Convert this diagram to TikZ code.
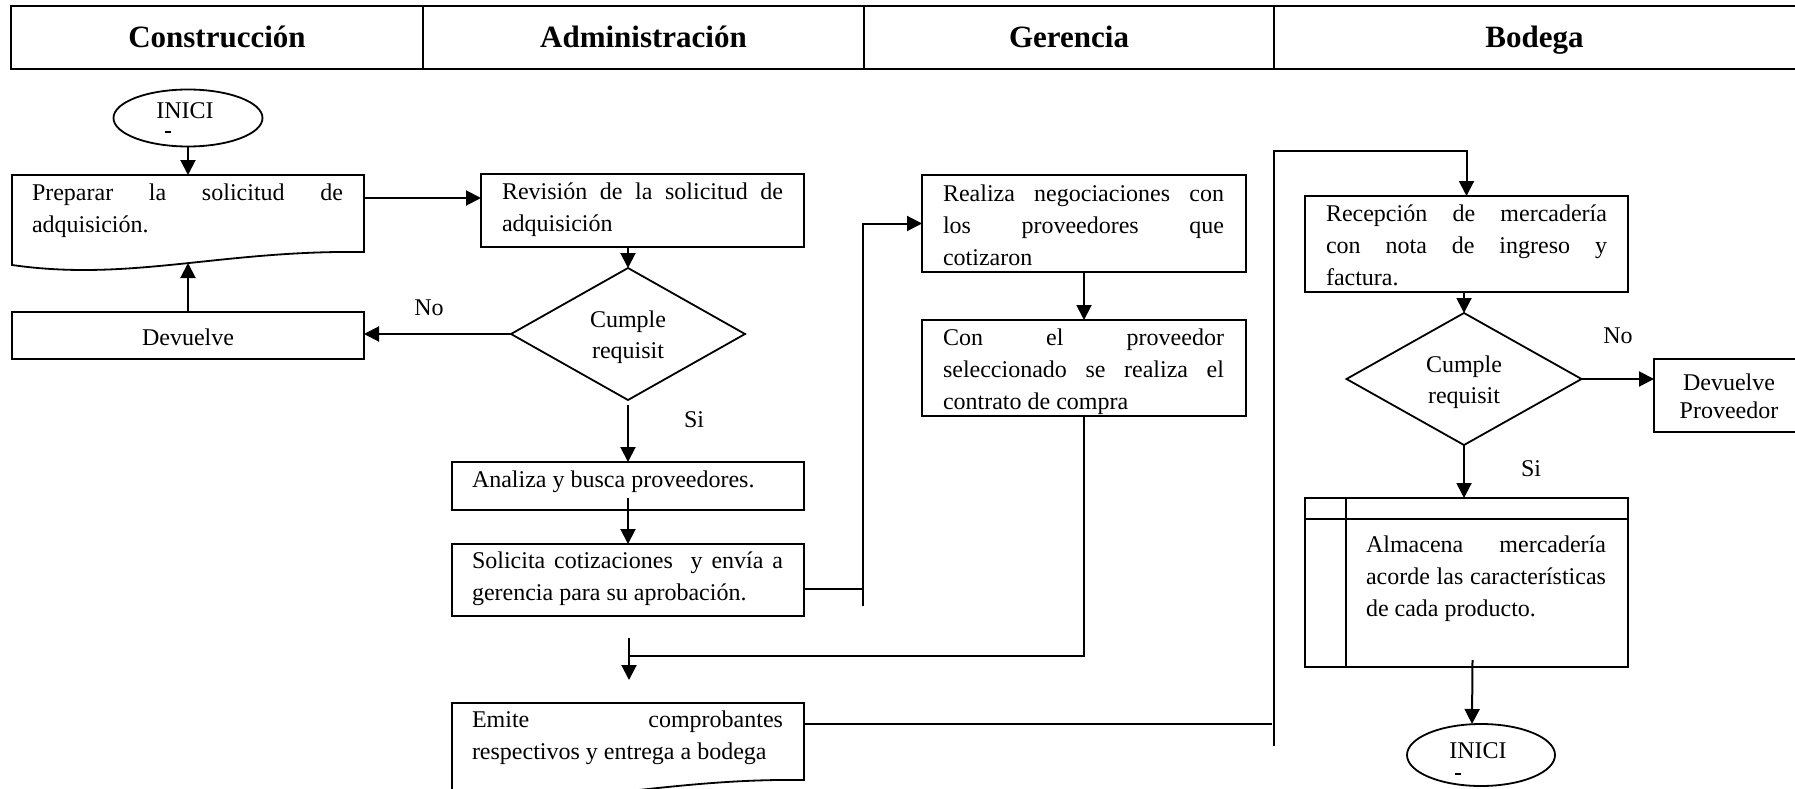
\documentclass[tikz,border=0pt]{standalone}
\usepackage{fontspec}
\setmainfont{Liberation Serif}
\usetikzlibrary{arrows.meta,shapes.geometric,calc}

% a line of text spread over a fixed width (justified line)
\newcommand{\jline}[2]{\makebox[#1][s]{#2}}
% outline of a "document" symbol with a wavy lower edge
\newcommand{\docshape}[1]{%
  \draw[boxline] (#1.north west) -- (#1.north east) -- ($(#1.north east)+(0,77)$)
    .. controls ($(#1.north east)+(-144,75)$) and ($(#1.north west)+(118,107)$) ..
    ($(#1.north west)+(0,90)$) -- cycle;}

\begin{document}
\begin{tikzpicture}[x=1pt,y=-1pt,
  every node/.style={inner sep=0pt, outer sep=0pt},
  boxline/.style={line width=1.8pt},
  box/.style={draw, rectangle, boxline, anchor=north west},
  docnode/.style={rectangle, anchor=north west},
  term/.style={draw, ellipse, boxline},
  decision/.style={draw, diamond, boxline},
  hdr/.style={draw, rectangle, line width=2.4pt, anchor=north west,
    minimum height=63pt, text height=24pt, text depth=3pt,
    font=\fontsize{31}{36}\selectfont\bfseries},
  txt/.style={font=\fontsize{24}{32}\selectfont},
  ln/.style={line width=2pt},
  arr/.style={line width=2pt, -{Triangle[length=15pt,width=15pt]}},
]
\useasboundingbox (0,0) rectangle (1795,789);
\fill[white] (0,0) rectangle (1795,789);
\clip (0,0) rectangle (1795,789);

% swimlane header
\node[hdr, minimum width=412pt] (h1) at (11,6) {Construcción};
\node[hdr, minimum width=441pt] (h2) at (423,6) {Administración};
\node[hdr, minimum width=410pt] (h3) at (864,6) {Gerencia};
\node[hdr, minimum width=540pt] (h4) at (1274,6) {\hspace*{-19pt}Bodega};

% Construcción lane
\node[term, minimum width=149pt, minimum height=57pt] (ini1) at (188,118) {};
\node[txt, anchor=base] (ini1-t) at (185,118) {INICI};
\draw[line width=1.4pt] ($(ini1-t.base)+(-20,14)$) -- ++(6,0);

\node[docnode, minimum width=352pt, minimum height=90pt] (prep) at (12,175) {};
\docshape{prep}
\node[txt, anchor=base west] (prep-t) at (32,200)
  {\parbox[t]{311pt}{\jline{311pt}{Preparar la solicitud de}\\adquisición.}};

\node[box, minimum width=352pt, minimum height=47pt] (dev) at (12,312) {};
\node[txt, anchor=base] (dev-t) at (188,345) {Devuelve};

% Administración lane
\node[box, minimum width=323pt, minimum height=73pt] (rev) at (481,174) {};
\node[txt, anchor=base west] (rev-t) at (502,199)
  {\parbox[t]{281pt}{\jline{281pt}{Revisión de la solicitud de}\\adquisición}};

\node[decision, minimum width=234pt, minimum height=132pt] (d1) at (628,334) {};
\node[txt, anchor=base] (d1-t) at (628,327)
  {\fontsize{24}{31}\selectfont\parbox[t]{130pt}{\centering Cumple\\requisit}};

\node[box, minimum width=352pt, minimum height=48pt] (ana) at (452,462) {};
\node[txt, anchor=base west] (ana-t) at (472,487) {Analiza y busca proveedores.};

\node[box, minimum width=352pt, minimum height=72pt] (sol) at (452,544) {};
\node[txt, anchor=base west] (sol-t) at (472,568)
  {\parbox[t]{311pt}{\jline{311pt}{Solicita cotizaciones\ \ y envía a}\\gerencia para su aprobación.}};

\node[docnode, minimum width=352pt, minimum height=90pt] (emite) at (452,703) {};
\docshape{emite}
\node[txt, anchor=base west] (emite-t) at (472,727)
  {\parbox[t]{311pt}{\jline{311pt}{Emite comprobantes}\\respectivos y entrega a bodega}};

% Gerencia lane
\node[box, minimum width=324pt, minimum height=97pt] (real) at (922,175) {};
\node[txt, anchor=base west] (real-t) at (943,201)
  {\parbox[t]{281pt}{\jline{281pt}{Realiza negociaciones con}\\\jline{281pt}{los proveedores que}\\cotizaron}};

\node[box, minimum width=324pt, minimum height=96pt] (con) at (922,320) {};
\node[txt, anchor=base west] (con-t) at (943,345)
  {\parbox[t]{281pt}{\jline{281pt}{Con el proveedor}\\\jline{281pt}{seleccionado se realiza el}\\contrato de compra}};

% Bodega lane
\node[box, minimum width=323pt, minimum height=96pt] (rec) at (1305,196) {};
\node[txt, anchor=base west] (rec-t) at (1326,221)
  {\parbox[t]{281pt}{\jline{281pt}{Recepción de mercadería}\\\jline{281pt}{con nota de ingreso y}\\factura.}};

\node[decision, minimum width=235pt, minimum height=132pt] (d2) at (1464,379) {};
\node[txt, anchor=base] (d2-t) at (1464,372)
  {\fontsize{24}{31}\selectfont\parbox[t]{130pt}{\centering Cumple\\requisit}};

\node[box, minimum width=160pt, minimum height=73pt] (dp) at (1654,359) {};
\node[txt, anchor=base] (dp-t) at (1729,390)
  {\fontsize{24}{28}\selectfont\parbox[t]{140pt}{\centering Devuelve\\Proveedor}};

\node[box, minimum width=323pt, minimum height=169pt] (alm) at (1305,498) {};
\draw[boxline] ($(alm.north west)+(41,0)$) -- ($(alm.south west)+(41,0)$);
\draw[boxline] ($(alm.north west)+(0,21)$) -- ($(alm.north east)+(0,21)$);
\node[txt, anchor=base west] (alm-t) at (1366,552)
  {\parbox[t]{240pt}{\jline{240pt}{Almacena mercadería}\\\jline{240pt}{acorde las características}\\de cada producto.}};

\node[term, minimum width=148pt, minimum height=62pt] (ini2) at (1481,755) {};
\node[txt, anchor=base] (ini2-t) at (1478,758) {INICI};
\draw[line width=1.4pt] ($(ini2-t.base)+(-23,16)$) -- ++(6,0);

% branch labels
\node[txt, anchor=base] (no1) at (429,315) {No};
\node[txt, anchor=base] (si1) at (694,427) {Si};
\node[txt, anchor=base] (no2) at (1618,343) {No};
\node[txt, anchor=base] (si2) at (1531,476) {Si};

% connectors
\draw[arr] (ini1.south) -- (ini1.south |- prep.north);
\draw[arr] ($(prep.north east)+(0,23)$) -- ($(rev.north west)+(0,24)$);
\draw[arr] (d1.north |- rev.south) -- (d1.north);
\draw[arr] (d1.west) -- (d1.west -| dev.east);
\coordinate (prep-in) at ($(prep.north west)+(176,88)$);
\draw[arr] (dev.north) -- (prep-in);
\draw[arr, shorten <=5pt] (d1.south) -- (ana.north);
\draw[arr] ($(ana.south)+(0,-12)$) -- (sol.north);

\coordinate (j-sol) at (863,589);
\coordinate (j-up) at (863,606);
\draw[ln] (j-sol -| sol.east) -- (j-sol);
\draw[arr] (j-up) |- (real.west);
\draw[arr] (real.south) -- (con.north);

\coordinate (j-con) at (629,656);
\draw[ln] (con.south) |- (j-con);
\coordinate (j-dn1) at (629,638);
\coordinate (j-dn2) at (629,680);
\draw[arr] (j-dn1) -- (j-dn2);

\coordinate (j-em) at (1272,724);
\draw[ln] (j-em -| emite.east) -- (j-em);
\coordinate (bv-low) at (1274,746);
\coordinate (bv-top) at (1274,151);
\draw[arr] (bv-low) |- (rec.north |- bv-top) -- (rec.north);

\draw[arr] (d2.north |- rec.south) -- (d2.north);
\draw[arr] (d2.east) -- (d2.east -| dp.west);
\draw[arr] (d2.south) -- (d2.south |- alm.north);
\draw[arr] ($(alm.south)+(6,-7)$) -- ($(ini2.north)+(-9,0)$);
\end{tikzpicture}
\end{document}
